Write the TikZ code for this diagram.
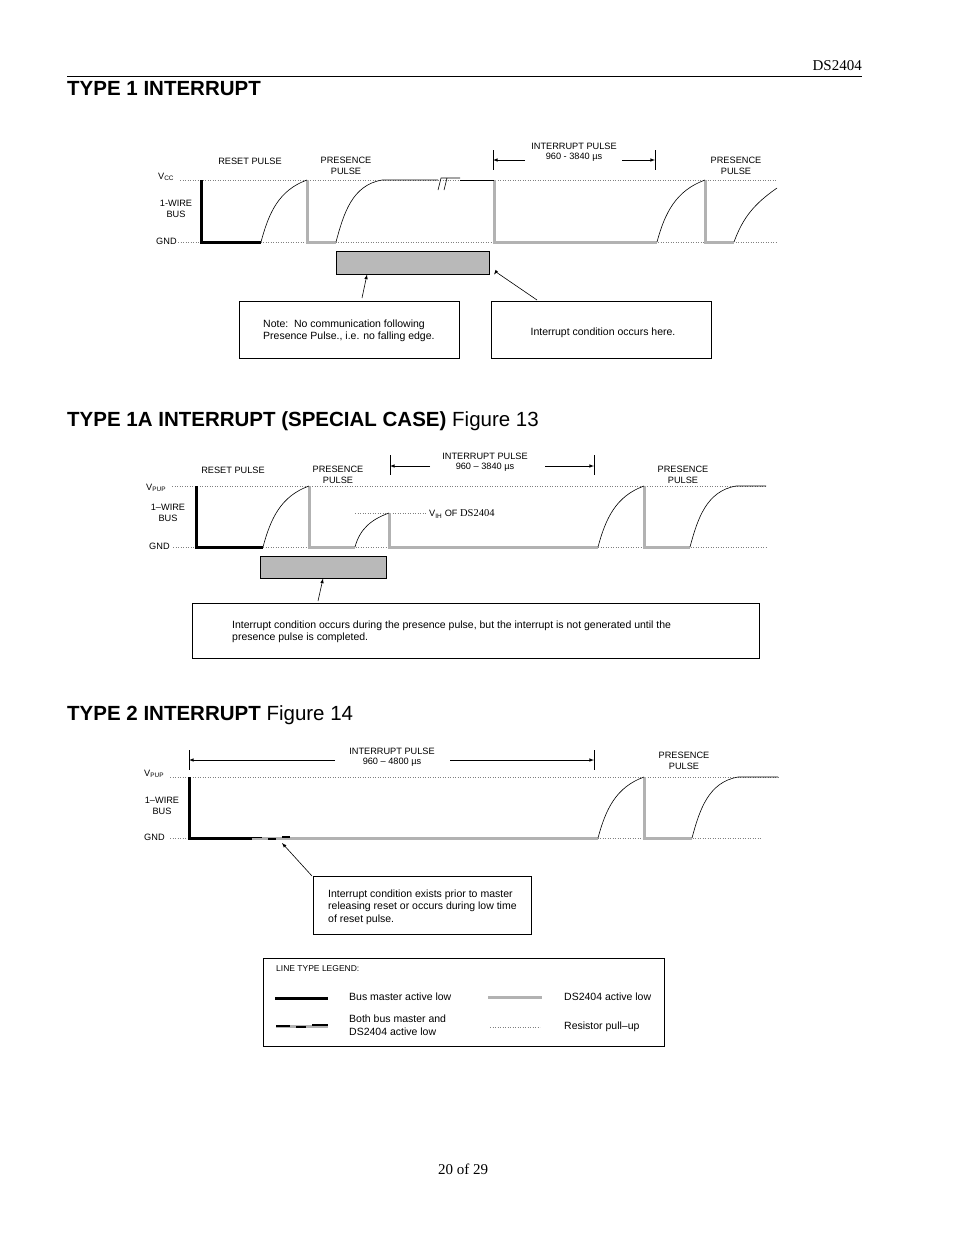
\documentclass[tikz,border=0pt]{standalone}
\usepackage{fontspec}
\setmainfont{Liberation Serif}
\setsansfont{Liberation Sans}
\usetikzlibrary{positioning}
\tikzset{
  lbl/.style={font=\sffamily\fontsize{9.2}{10.5}\selectfont,align=center,inner sep=0pt},
  boxtxt/.style={font=\sffamily\fontsize{10.5}{12.5}\selectfont,inner sep=0pt},
  notebox/.style={draw,line width=0.6pt,inner sep=0pt},
  master/.style={line width=3pt},
  slave/.style={line width=3pt,gray!60},
  pullup/.style={dotted,gray,line width=0.5pt},
  rise/.style={line width=0.6pt},
  heading/.style={font=\sffamily\bfseries\fontsize{20.5}{22}\selectfont,anchor=west,inner sep=0pt},
  dim/.style={-latex,line width=0.6pt}
}
\begin{document}
\begin{tikzpicture}[x=1pt,y=-1pt]
\useasboundingbox[fill=white](0,0) rectangle (954,1235);
% page head and foot
\node(head)[anchor=east,font=\fontsize{15}{17}\selectfont,inner sep=0pt] at (862,66){DS2404};
\draw[line width=0.6pt](67,76)--(862,76);
\node(foot)[font=\fontsize{15}{17}\selectfont,inner sep=0pt] at (463,1169){20 of 29};

% ---- type 1
\node(t1)[heading] at (67,89){TYPE 1 INTERRUPT};
\node(vcc)[lbl,anchor=west] at (158,177){V\textsubscript{CC}};
\node(bus1)[lbl] at (176,209){1-WIRE\\BUS};
\node(gnd1)[lbl,anchor=west] at (156,241){GND};
\draw[pullup](180,180)--(777,180);
\draw[pullup](178,242)--(777,242);
\draw[slave](307,180)--(307,242)--(336,242);
\draw[slave](494,180)--(494,242)--(657,242);
\draw[slave](705,180)--(705,242)--(734,242);
\draw[master](201,180)--(201,242)--(261,242);
\draw[rise](261,242) to[out=75,in=200](307,180);
\draw[rise](336,242) to[out=75,in=190](382,180)--(438,180);
\draw[rise](438,190)--(441,178)--(455,178) (444,190)--(447,178)--(460,178);
\draw[rise](460,180)--(494,180);
\draw[rise](657,242) to[out=75,in=200](705,180);
\draw[rise](734,242) to[out=70,in=215](777,188);
\node(rp1)[lbl] at (250,161){RESET PULSE};
\node(pp1)[lbl] at (346,166){PRESENCE\\PULSE};
\node(ip1)[lbl] at (574,152){INTERRUPT PULSE\\960 - 3840 \textmu s};
\node(pp1b)[lbl] at (736,166){PRESENCE\\PULSE};
\draw[line width=0.6pt](493,150)--(493,170) (655,150)--(655,170);
\draw[dim](525,160)--(493,160);
\draw[dim](622,160)--(655,160);
\node(gb1)[draw,line width=1pt,fill=gray!55,minimum width=153pt,minimum height=23pt,inner sep=0pt] at (412.5,262.5){};
\node(note1)[notebox,minimum width=220pt,minimum height=57pt] at (349,329.5){};
\node[boxtxt,align=left,anchor=west] at (263,331){Note:\ \ No communication following\\Presence Pulse., i.e. no falling edge.};
\node(note2)[notebox,minimum width=220pt,minimum height=57pt] at (601,329.5){};
\node[boxtxt] at (603,333){Interrupt condition occurs here.};
\coordinate(c1) at (362,298);
\coordinate(c2) at (537,300);
\coordinate(c3) at (496,272);
\draw[dim](c1)--(gb1.south -| 367,0);
\draw[dim](c2)--(c3)--(gb1.south east -| 494,0);

% ---- type 1a
\node(t1a)[heading] at (67,421){TYPE 1A INTERRUPT (SPECIAL CASE)\mdseries\ Figure 13};
\node(vpup2)[lbl,anchor=west] at (146,488){V\textsubscript{PUP}};
\node(bus2)[lbl] at (168,513){1--WIRE\\BUS};
\node(gnd2)[lbl,anchor=west] at (149,546){GND};
\draw[pullup](172,486)--(766,486);
\draw[pullup](173,547)--(766,547);
\draw[pullup](355,513)--(427,513);
\node(vih)[lbl,anchor=west] at (429,514){V\textsubscript{IH} OF \rmfamily\fontsize{10.5}{11}\selectfont DS2404};
\draw[slave](309,486)--(309,547)--(355,547);
\draw[slave](389,513)--(389,547)--(598,547);
\draw[slave](644,486)--(644,547)--(690,547);
\draw[master](196,486)--(196,547)--(263,547);
\draw[rise](263,547) to[out=75,in=200](309,486);
\draw[rise](355,547) to[out=75,in=200](389,513);
\draw[rise](598,547) to[out=75,in=200](644,486);
\draw[rise](690,547) to[out=75,in=190](736,486)--(766,486);
\node(rp2)[lbl] at (233,470){RESET PULSE};
\node(pp2)[lbl] at (338,475){PRESENCE\\PULSE};
\node(ip2)[lbl] at (485,462){INTERRUPT PULSE\\960 -- 3840 \textmu s};
\node(pp2b)[lbl] at (683,475){PRESENCE\\PULSE};
\draw[line width=0.6pt](390,455)--(390,475) (594,455)--(594,475);
\draw[dim](430,466)--(390,466);
\draw[dim](545,466)--(594,466);
\node(gb2)[draw,line width=1pt,fill=gray!55,minimum width=126pt,minimum height=22pt,inner sep=0pt] at (323,567){};
\node(note3)[notebox,minimum width=567pt,minimum height=55pt] at (475.5,630.5){};
\node[boxtxt,align=left,anchor=west] at (232,632){Interrupt condition occurs during the presence pulse, but the interrupt is not generated until the\\presence pulse is completed.};
\coordinate(c4) at (318,601);
\draw[dim](c4)--(gb2.south -| 323,0);

% ---- type 2
\node(t2)[heading] at (67,715){TYPE 2 INTERRUPT\mdseries\ Figure 14};
\node(vpup3)[lbl,anchor=west] at (144,774){V\textsubscript{PUP}};
\node(bus3)[lbl] at (162,806){1--WIRE\\BUS};
\node(gnd3)[lbl,anchor=west] at (144,837){GND};
\draw[pullup](170,777)--(778,777);
\draw[pullup](170,838)--(762,838);
\draw[slave](296,838)--(598,838);
\draw[slave](644,777)--(644,838)--(692,838);
\draw[master](189,777)--(189,838)--(252,838);
\draw[slave](252,838)--(296,838);
\draw[line width=1.5pt](252,837.5)--(262,837.5) (268,839)--(276,839) (282,837)--(290,837);
\draw[rise](598,838) to[out=75,in=200](644,777);
\draw[rise](692,838) to[out=75,in=190](738,777)--(778,777);
\node(ip3)[lbl] at (392,757){INTERRUPT PULSE\\960 -- 4800 \textmu s};
\node(pp3)[lbl] at (684,761){PRESENCE\\PULSE};
\draw[line width=0.6pt](189,750)--(189,770) (594,750)--(594,770);
\draw[dim](335,760)--(189,760);
\draw[dim](450,760)--(594,760);
\node(note4)[notebox,minimum width=218pt,minimum height=58pt] at (422,905){};
\node[boxtxt,align=left,anchor=west] at (328,907){Interrupt condition exists prior to master\\releasing reset or occurs during low time\\of reset pulse.};
\coordinate(c5) at (312,876);
\coordinate(c6) at (282,843);
\draw[dim](c5)--(c6);
% legend
\node(leg)[notebox,minimum width=401pt,minimum height=88pt] at (463.5,1002){};
\node[boxtxt,anchor=west,font=\sffamily\fontsize{8.5}{10}\selectfont] at (276,969){LINE TYPE LEGEND:};
\draw[master](275,998)--(328,998);
\node[boxtxt,anchor=west] at (349,997){Bus master active low};
\draw[slave](488,997)--(542,997);
\node[boxtxt,anchor=west] at (564,997){DS2404 active low};
\draw[slave](276,1026)--(328,1026);
\draw[line width=2pt](276,1025.5)--(290,1025.5) (296,1026.5)--(306,1026.5) (312,1025)--(328,1025);
\node[boxtxt,anchor=west,align=left] at (349,1025){Both bus master and\\DS2404 active low};
\draw[pullup](490,1027)--(540,1027);
\node[boxtxt,anchor=west] at (564,1027){Resistor pull--up};
\end{tikzpicture}
\end{document}
